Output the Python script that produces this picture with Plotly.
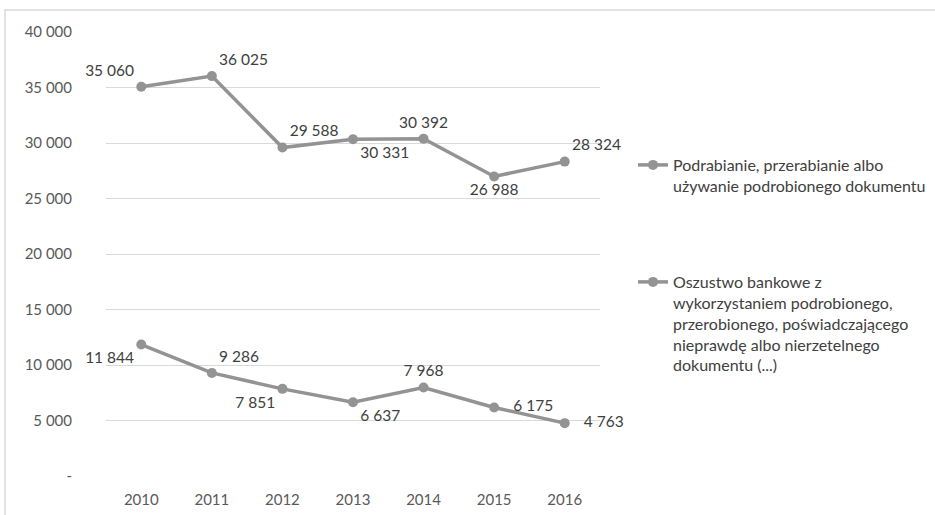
import plotly.graph_objects as go

years = ["2010", "2011", "2012", "2013", "2014", "2015", "2016"]
podrabianie = [35060, 36025, 29588, 30331, 30392, 26988, 28324]
oszustwo = [11844, 9286, 7851, 6637, 7968, 6175, 4763]
name1 = "Podrabianie, przerabianie albo<br>używanie podrobionego dokumentu"
name2 = ("Oszustwo bankowe z<br>wykorzystaniem podrobionego,<br>przerobionego, poświadczającego"
         "<br>nieprawdę albo nierzetelnego<br>dokumentu (...)")
ytick_vals = [0, 5000, 10000, 15000, 20000, 25000, 30000, 35000, 40000]
ytick_text = ["-", "5 000", "10 000", "15 000", "20 000", "25 000", "30 000", "35 000", "40 000"]

pos1 = ["top left", "top right", "top right", "bottom right", "top center", "bottom center", "top right"]
pos2 = ["bottom left", "top right", "bottom left", "bottom right", "top center", "middle right", "middle right"]

FONT = "Lato"
GRAY = "#939393"
NB = "\u00a0"
tt1 = ["%{y:,}"] * 7
tt2 = ["%{y:,}"] * 5 + [NB * 3 + "%{y:,}", NB * 3 + "%{y:,}"]

fig = go.Figure()
fig.add_trace(go.Scatter(
    x=years, y=podrabianie, name=name1, mode="lines+markers+text",
    line=dict(color=GRAY, width=3.5), marker=dict(size=10, color=GRAY),
    text=podrabianie, texttemplate=tt1, textposition=pos1,
    textfont=dict(family=FONT, size=15.5, color="#404040"),
    legend="legend", cliponaxis=False, hoverinfo="skip",
))
fig.add_trace(go.Scatter(
    x=years, y=oszustwo, name=name2, mode="lines+markers+text",
    line=dict(color=GRAY, width=3.5), marker=dict(size=10, color=GRAY),
    text=oszustwo, texttemplate=tt2, textposition=pos2,
    textfont=dict(family=FONT, size=15.5, color="#404040"),
    legend="legend2", cliponaxis=False, hoverinfo="skip",
))

L, R, T, B = 106, 335, 32, 39
W, H = 935, 515
pw, ph = W - L - R, H - T - B

def px(xp):
    return (xp - L) / pw

def py(yp):
    return 1 - (yp - T) / ph

fig.update_layout(
    width=W, height=H,
    margin=dict(l=L, r=R, t=T, b=B, autoexpand=False),
    paper_bgcolor="white", plot_bgcolor="white",
    separators=", ",
    font=dict(family=FONT, size=14, color="#595959"),
    showlegend=True,
    legend=dict(x=px(633), y=py(148), xanchor="left", yanchor="top",
                font=dict(family=FONT, size=16, color="#404040"),
                bgcolor="rgba(0,0,0,0)", valign="top"),
    legend2=dict(x=px(633), y=py(265), xanchor="left", yanchor="top",
                 font=dict(family=FONT, size=16, color="#404040"),
                 bgcolor="rgba(0,0,0,0)", valign="top"),
    xaxis=dict(type="category", range=[-0.5, 6.5], showgrid=False,
               showline=False, zeroline=False,
               tickfont=dict(family=FONT, size=15, color="#595959"),
               ticks="outside", ticklen=10, tickcolor="rgba(0,0,0,0)"),
    yaxis=dict(range=[0, 40000], tickvals=ytick_vals, ticktext=ytick_text,
               showgrid=True, gridcolor="#D9D9D9", gridwidth=1,
               zeroline=False, showline=False,
               tickfont=dict(family=FONT, size=15, color="#595959"),
               ticks="outside", ticklen=30, tickcolor="rgba(0,0,0,0)"),
    shapes=[dict(type="rect", xref="paper", yref="paper",
                 x0=px(5), x1=px(960), y0=py(540), y1=py(10),
                 line=dict(color="#D9D9D9", width=1.5), fillcolor="rgba(0,0,0,0)",
                 layer="below")],
)

fig.write_html("out.html", config={"displayModeBar": False},
               post_script="document.body.style.margin='0';")
